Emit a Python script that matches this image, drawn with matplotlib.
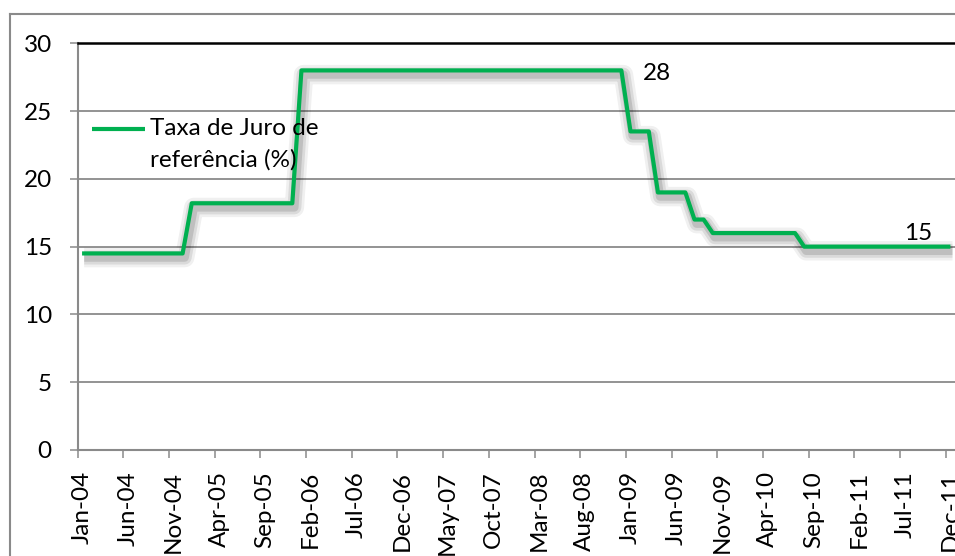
import matplotlib
matplotlib.use('Agg')
import matplotlib.pyplot as plt
import matplotlib.patheffects as pe
from matplotlib.lines import Line2D
from matplotlib.legend_handler import HandlerLine2D

plt.rcParams['font.family'] = ['Lato', 'DejaVu Sans']

# monthly reference rate, Jan-04 .. Dec-11
rates = [
    14.5, 14.5, 14.5, 14.5, 14.5, 14.5, 14.5, 14.5, 14.5, 14.5, 14.5, 14.5,  # 2004
    18.2, 18.2, 18.2, 18.2, 18.2, 18.2, 18.2, 18.2, 18.2, 18.2, 18.2, 18.2,  # 2005
    28, 28, 28, 28, 28, 28, 28, 28, 28, 28, 28, 28,                          # 2006
    28, 28, 28, 28, 28, 28, 28, 28, 28, 28, 28, 28,                          # 2007
    28, 28, 28, 28, 28, 28, 28, 28, 28, 28, 28, 28,                          # 2008
    23.5, 23.5, 23.5, 19, 19, 19, 19, 17, 17, 16, 16, 16,                    # 2009
    16, 16, 16, 16, 16, 16, 16, 15, 15, 15, 15, 15,                          # 2010
    15, 15, 15, 15, 15, 15, 15, 15, 15, 15, 15, 15,                          # 2011
]
tick_labels = ['Jan-04', 'Jun-04', 'Nov-04', 'Apr-05', 'Sep-05', 'Feb-06', 'Jul-06',
               'Dec-06', 'May-07', 'Oct-07', 'Mar-08', 'Aug-08', 'Jan-09', 'Jun-09',
               'Nov-09', 'Apr-10', 'Sep-10', 'Feb-11', 'Jul-11', 'Dec-11']
series_label = 'Taxa de Juro de\nreferência (%)'
point_labels = [(59, '28'), (95, '15')]


class FirstLineHandler(HandlerLine2D):
    # put the legend line next to the first text line, like excel does
    def create_artists(self, legend, orig_handle, xdescent, ydescent, width, height,
                       fontsize, trans):
        arts = super().create_artists(legend, orig_handle, xdescent, ydescent, width,
                                      height, fontsize, trans)
        for a in arts:
            a.set_ydata([v + 11.5 for v in a.get_ydata()])
            a.set_path_effects([])
        return arts


W, H = 955, 556
fig = plt.figure(figsize=(W / 100, H / 100), dpi=100)
ax = fig.add_axes([77.5 / W, 106 / H, 1 - 77.5 / W, (450 - 43.3) / H])

gray = '#8a8a8a'
green = '#00B050'
fs = 17.5

x = list(range(len(rates)))
shadow = [
    pe.SimpleLineShadow(offset=(1.5, -3), shadow_color='k', alpha=0.06, linewidth=14),
    pe.SimpleLineShadow(offset=(1.5, -3), shadow_color='k', alpha=0.09, linewidth=10),
    pe.SimpleLineShadow(offset=(1.5, -3), shadow_color='k', alpha=0.12, linewidth=6),
    pe.Normal(),
]
line, = ax.plot(x, rates, color=green, lw=3, label=series_label, path_effects=shadow,
                solid_capstyle='butt')

for idx, txt in point_labels:
    off = (36, -3) if txt == '28' else (-32, 13)
    ax.annotate(txt, xy=(idx, rates[idx]), xytext=off, textcoords='offset pixels',
                ha='center', va='center', fontsize=fs)

ax.set_xlim(-0.5, len(rates) - 0.5)
ax.set_ylim(0, 30)

ax.set_yticks(range(0, 31, 5))
ax.yaxis.grid(True, color=gray, lw=1.3)
ax.set_axisbelow(True)
ax.tick_params(axis='y', direction='out', length=5.5, width=1.1, color=gray,
               pad=13, labelsize=fs)

ax.set_xticks(x[::5])
ax.set_xticklabels(tick_labels, rotation=90)
ax.set_xticks([i - 0.5 for i in x[::5]], minor=True)
ax.tick_params(axis='x', which='major', length=0, pad=15, labelsize=fs)
ax.tick_params(axis='x', which='minor', direction='out', length=6, width=1.1, color=gray)

ax.spines['top'].set_color('black')
ax.spines['top'].set_linewidth(1.8)
ax.spines['right'].set_visible(False)
for s in ('left', 'bottom'):
    ax.spines[s].set_color(gray)
    ax.spines[s].set_linewidth(1.5)

leg = ax.legend(loc='upper left', bbox_to_anchor=(92 / W, (H - 118) / H),
                bbox_transform=fig.transFigure, frameon=False, fontsize=fs,
                borderpad=0, borderaxespad=0, handlelength=2.2, handletextpad=0.2,
                handler_map={line: FirstLineHandler()})
leg.get_texts()[0].set_linespacing(1.6)

# outer chart frame
fig.add_artist(Line2D([10 / W, 10 / W], [0, (H - 14) / H], transform=fig.transFigure,
                      color=gray, lw=1.5))
fig.add_artist(Line2D([10 / W, 1], [(H - 14) / H, (H - 14) / H], transform=fig.transFigure,
                      color=gray, lw=1.5))

fig.savefig('out.png', dpi=100)
